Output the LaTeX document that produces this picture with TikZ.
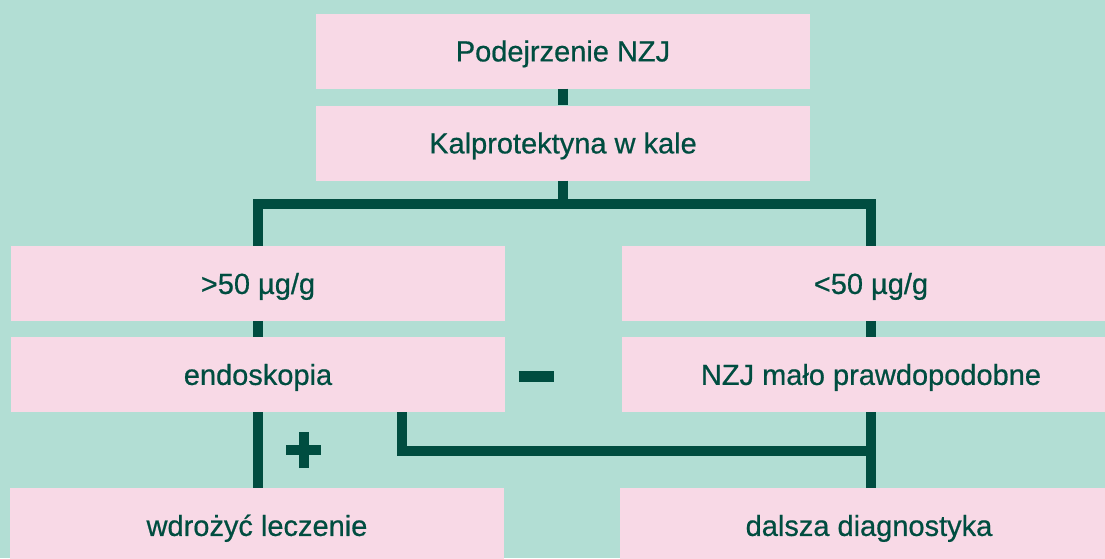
\documentclass[tikz,border=0pt]{standalone}
\usepackage{fontspec}
\setmainfont{Liberation Sans}
\definecolor{mint}{RGB}{178,222,212}
\definecolor{pinkbox}{RGB}{248,217,230}
\definecolor{darkgreen}{RGB}{0,77,64}
\begin{document}
\begin{tikzpicture}[x=1pt,y=-1pt,
  box/.style={fill=pinkbox, draw=none, inner sep=0pt, minimum width=494pt, minimum height=75pt,
    text=darkgreen, font=\fontsize{29}{34}\selectfont\addfontfeature{FakeBold=0.6}, text height=20.8pt, text depth=0pt},
  rbox/.style={box, minimum width=498pt},
  conn/.style={draw=darkgreen, line width=10pt, line cap=butt, line join=miter},
  sign/.style={draw=darkgreen, line width=10pt, line cap=butt}]
\useasboundingbox (0,0) rectangle (1105,558);
\fill[mint] (0,0) rectangle (1105,558);
\coordinate (bar) at (563,204);
\coordinate (br) at (871,451);
\node[box] (top) at (563,51) {Podejrzenie NZJ};
\node[box] (kal) at (563,143) {Kalprotektyna w kale};
\node[box] (gt) at (258,283.5) {>50 µg/g};
\node[rbox] (lt) at (871,283.5) {<50 µg/g};
\node[box] (endo) at (258,374.5) {endoskopia};
\node[rbox] (nzj) at (871,374.5) {NZJ mało prawdopodobne};
\node[box] (wdr) at (257,525.5) {wdrożyć leczenie};
\node[rbox] (dal) at (869,525.5) {dalsza diagnostyka};
\draw[conn] (top.south) -- (kal.north);
\draw[conn] (kal.south) -- (kal.south |- bar);
\draw[conn] (gt.north) -- (gt.north |- bar) -- (lt.north |- bar) -- (lt.north);
\draw[conn] (gt.south) -- (endo.north);
\draw[conn] (lt.south) -- (nzj.north);
\draw[conn] (endo.south) -- (endo.south |- wdr.north);
\draw[conn] (nzj.south) -- (nzj.south |- dal.north);
\draw[conn] ([xshift=144pt]endo.south) |- (br);
% signs
\coordinate (plus) at (303.5,450);
\coordinate (minus) at (536,376);
\draw[sign] ([xshift=-17.5pt]plus) -- ([xshift=17.5pt]plus);
\draw[sign] ([yshift=-18pt]plus) -- ([yshift=18pt]plus);
\draw[line width=11pt, draw=darkgreen] ([xshift=-17.5pt]minus) -- ([xshift=17.5pt]minus);
\end{tikzpicture}
\end{document}
